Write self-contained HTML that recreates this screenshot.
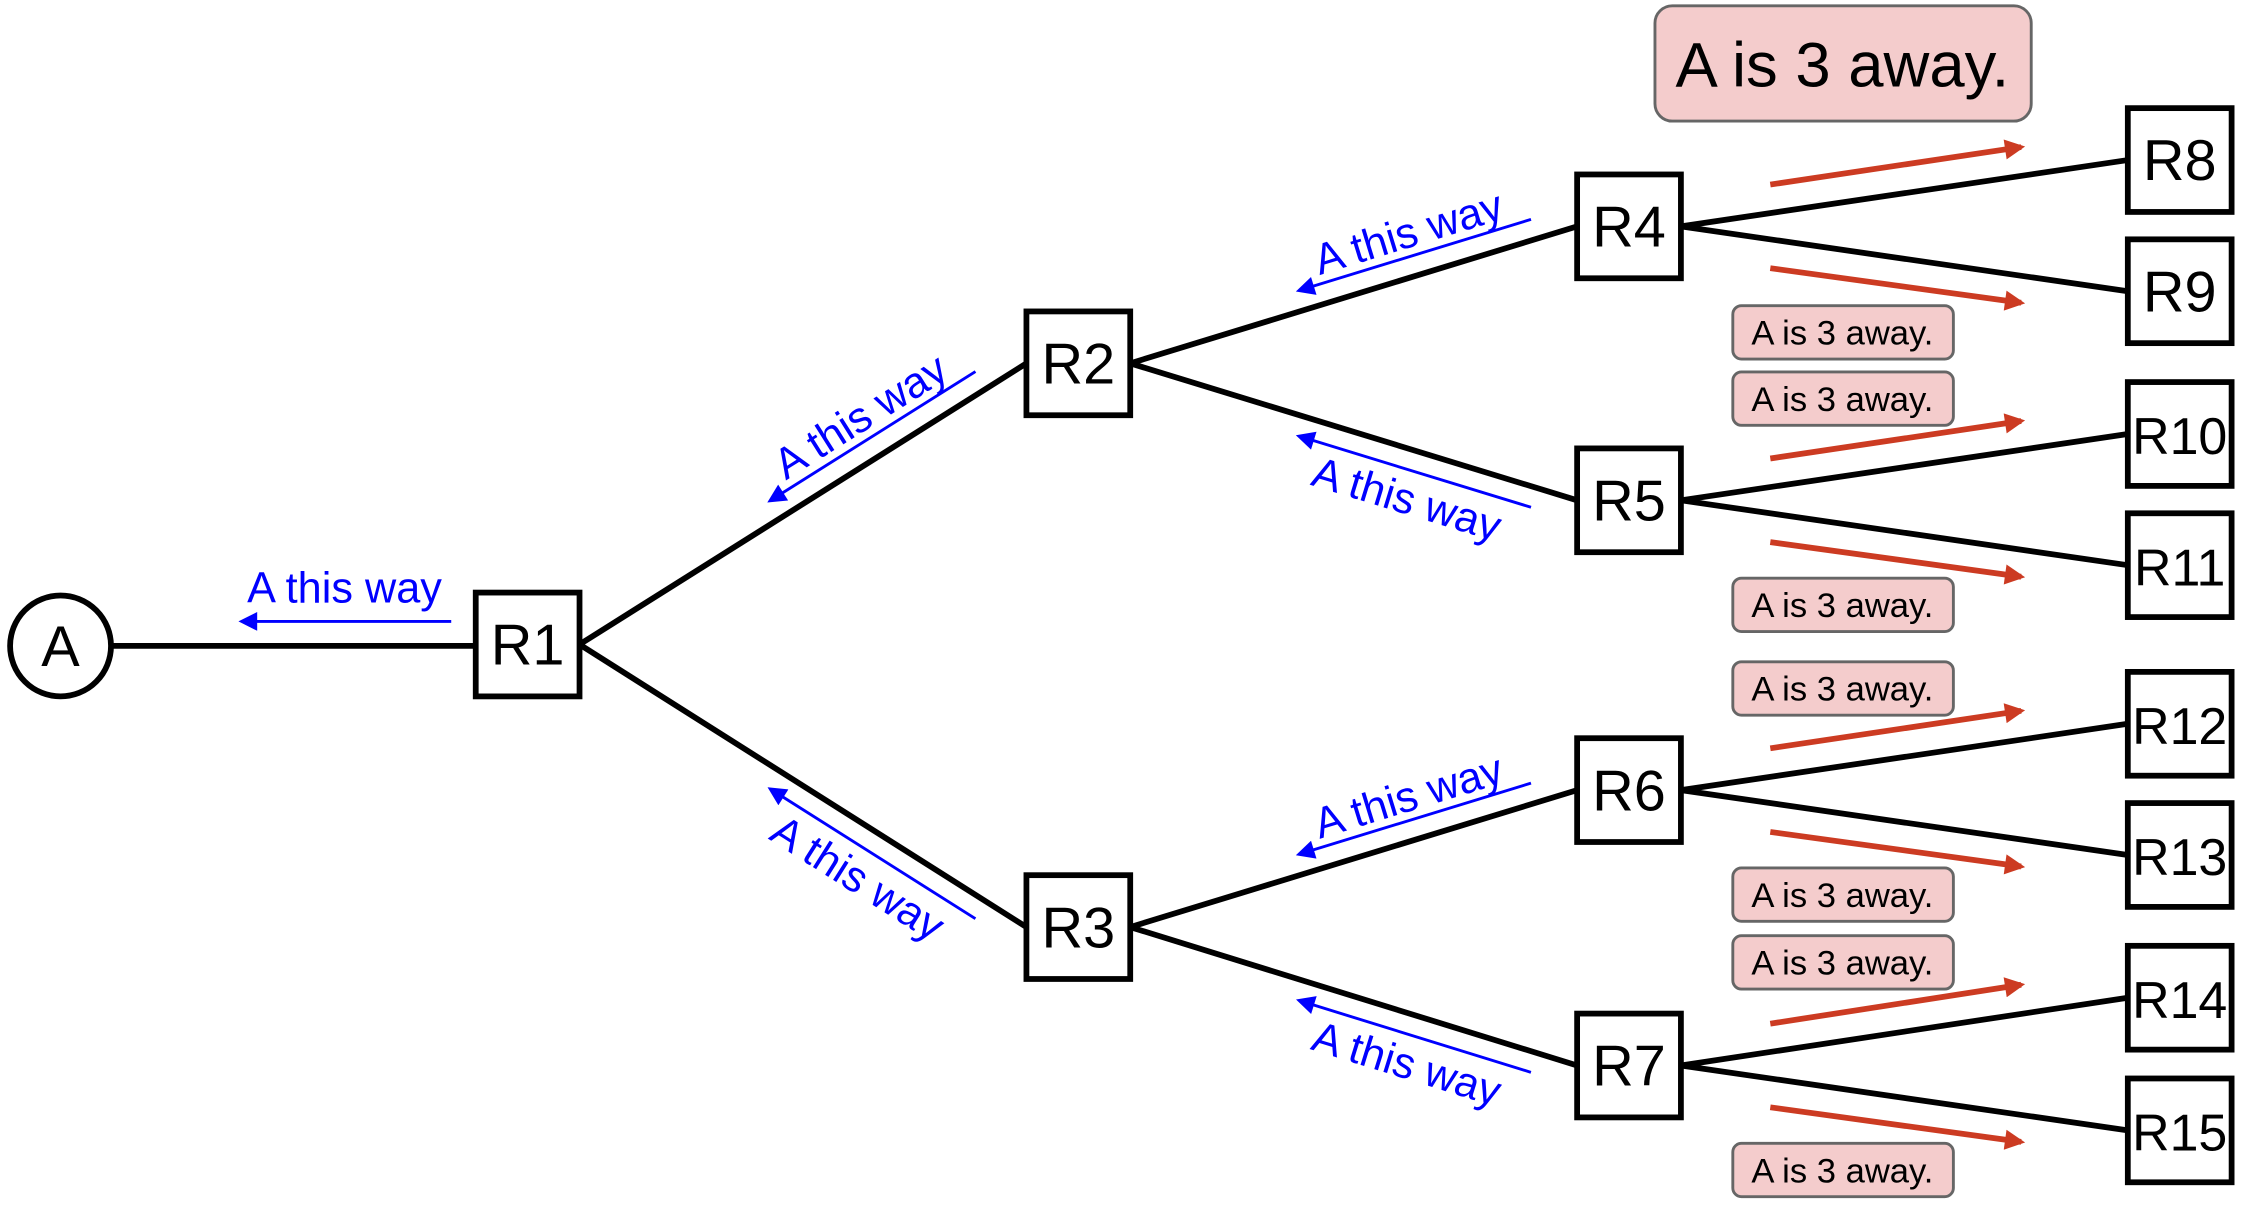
<!DOCTYPE html>
<html><head><meta charset="utf-8"><style>
html,body{margin:0;padding:0;background:#fff}
svg{display:block}
text{font-family:"Liberation Sans",sans-serif}
</style></head><body>
<svg id="c" width="2259" height="1214" viewBox="0 0 1567 842" preserveAspectRatio="none" xmlns="http://www.w3.org/2000/svg">
<defs>
<marker id="bh" viewBox="0 0 10 10" refX="8" refY="5" markerWidth="16" markerHeight="13" orient="auto" markerUnits="userSpaceOnUse"><path d="M0,0L10,5L0,10z" fill="#0000ff"/></marker>
<marker id="rh" viewBox="0 0 10 10" refX="8" refY="5" markerWidth="18" markerHeight="14" orient="auto" markerUnits="userSpaceOnUse"><path d="M0,0L10,5L0,10z" fill="#cc3b22"/></marker>
</defs>
<g id="edges"></g><g id="nodes"></g><g id="ann"></g>
</svg>
<script>
const nodeNames=["R1","R2","R3","R4","R5","R6","R7","R8","R9","R10","R11","R12","R13","R14","R15"];
const nodeX=[366,748,748,1130,1130,1130,1130,1512,1512,1512,1512,1512,1512,1512,1512];
const nodeY=[447,252,643,157,347,548,739,111,202,301,392,502,593,692,784];
const parentIdx=[-1,0,0,1,1,2,2,3,3,4,4,5,5,6,6];
const smallLabelTops=[212,258,401,459,602,649,793];
const NS="http://www.w3.org/2000/svg";
const E=document.getElementById('edges'),N=document.getElementById('nodes'),A=document.getElementById('ann');
function mk(tag,at,p){const e=document.createElementNS(NS,tag);for(const k in at)e.setAttribute(k,at[k]);p.appendChild(e);return e;}
const H=36;
let l=mk('line',{x1:78,y1:448,x2:330,y2:448,stroke:'#000','stroke-width':4},E);


let c=mk('circle',{cx:42,cy:448,r:35,fill:'#fff',stroke:'#000','stroke-width':4},N);


let t=mk('text',{x:42,y:462,'font-size':40,'text-anchor':'middle'},N);t.textContent='A';


let bl=mk('line',{x1:313,y1:431,x2:168,y2:431,stroke:'#0000ff','stroke-width':2,'marker-end':'url(#bh)'},A);


let bt=mk('text',{x:239,y:418,'font-size':30,fill:'#0000ff','text-anchor':'middle'},A);bt.textContent='A this way';


for(let i=0;i<nodeNames.length;i++){
  const p=parentIdx[i];
  if(p>=0){
    const x1=nodeX[p]+H,y1=nodeY[p],x2=nodeX[i]-H,y2=nodeY[i];
    const e=mk('line',{x1,y1,x2,y2,stroke:'#000','stroke-width':4},E);
    
    
    const up=y2<y1;
    if(i<7){
      const L=Math.hypot(x2-x1,y2-y1),ux=(x2-x1)/L,uy=(y2-y1)/L;
      let nx=uy,ny=-ux;
      if((ny<0)!==up){nx=-nx;ny=-ny;}
      const off=14;
      const sx=x1+ux*L*0.91+nx*off,sy=y1+uy*L*0.91+ny*off;
      const ex=sx-ux*168,ey=sy-uy*168;
      const a=mk('line',{x1:sx,y1:sy,x2:ex,y2:ey,stroke:'#0000ff','stroke-width':2,'marker-end':'url(#bh)'},A);
      
      
      const mx=(sx+ex)/2,my=(sy+ey)/2,d=up?6:30;
      const ang=Math.atan2(uy,ux)*180/Math.PI;
      const tx=mx+nx*d,ty=my+ny*d;
      const tt=mk('text',{x:tx,y:ty,'font-size':30,fill:'#0000ff','text-anchor':'middle',transform:`rotate(${ang} ${tx} ${ty})`},A);
      tt.textContent='A this way';
      
      
    } else {
      const sy=up?y1-29:y1+29, ey=up?y2-9:y2+8;
      const r=mk('line',{x1:1228,y1:sy,x2:1402,y2:ey,stroke:'#cc3b22','stroke-width':4,'marker-end':'url(#rh)'},A);
      
      
    }
  }
  const b=mk('rect',{x:nodeX[i]-H,y:nodeY[i]-H,width:72,height:72,fill:'#fff',stroke:'#000','stroke-width':4},N);
  
  
  const lt=mk('text',{x:nodeX[i],y:nodeY[i]+14,'font-size':nodeNames[i].length>2?36:40,'text-anchor':'middle'},N);
  lt.textContent=nodeNames[i];
  
  
}
for(const ty of smallLabelTops){
  const g=mk('g',{},A);
  
  
  mk('rect',{x:1202,y:ty,width:153,height:37,rx:6,fill:'#f4cccc',stroke:'#666','stroke-width':2},g);
  const s=mk('text',{x:1278,y:ty+27,'font-size':24,'text-anchor':'middle'},g);s.textContent='A is 3 away.';
}
const g=mk('g',{},A);


mk('rect',{x:1148,y:4,width:261,height:80,rx:12,fill:'#f4cccc',stroke:'#666','stroke-width':2},g);
const s=mk('text',{x:1278,y:60,'font-size':44,'text-anchor':'middle'},g);s.textContent='A is 3 away.';
</script>
</body></html>
